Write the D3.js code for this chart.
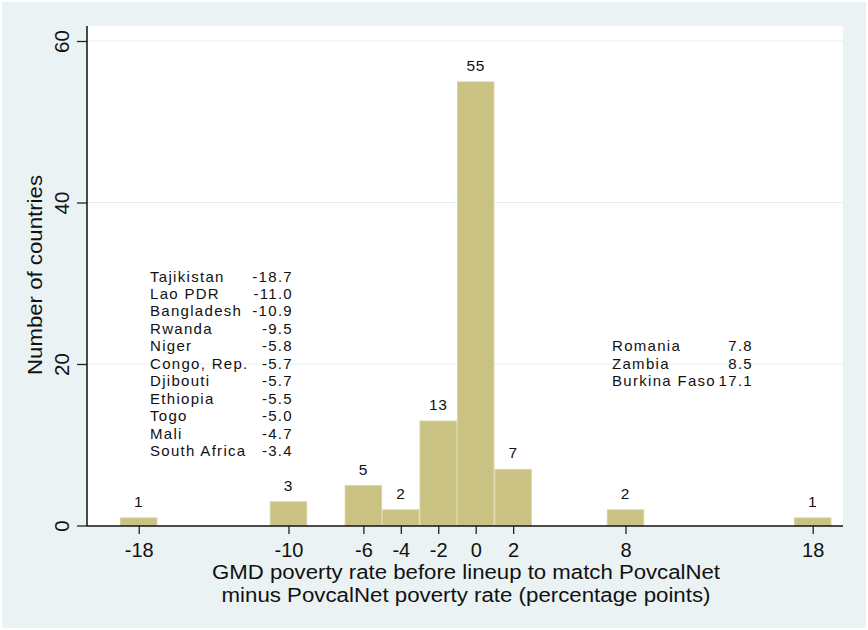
<!DOCTYPE html>
<html><head><meta charset="utf-8">
<script src="https://cdn.jsdelivr.net/npm/d3@7"></script>
<style>body{margin:0;padding:0;background:#fff}svg{display:block}text{font-family:"Liberation Sans",Arial,sans-serif;fill:#111}</style>
</head><body>
<svg id="c" width="868" height="630"></svg>
<script>
const binCenters = [-18, -10, -6, -4, -2, 0, 2, 8, 18];
const binCounts  = [1, 3, 5, 2, 13, 55, 7, 2, 1];
const xTicks = [-18, -10, -6, -4, -2, 0, 2, 8, 18];
const yTicks = [0, 20, 40, 60];
const leftNames  = ["Tajikistan","Lao PDR","Bangladesh","Rwanda","Niger","Congo, Rep.","Djibouti","Ethiopia","Togo","Mali","South Africa"];
const leftValues = ["-18.7","-11.0","-10.9","-9.5","-5.8","-5.7","-5.7","-5.5","-5.0","-4.7","-3.4"];
const rightNames  = ["Romania","Zambia","Burkina Faso"];
const rightValues = ["7.8","8.5","17.1"];
const xTitle = ["GMD poverty rate before lineup to match PovcalNet","minus PovcalNet poverty rate (percentage points)"];
const yTitle = "Number of countries";

const svg = d3.select("#c");
svg.append("rect").attr("x",0).attr("y",0).attr("width",868).attr("height",630).attr("fill","#ffffff");
svg.append("rect").attr("x",2).attr("y",2).attr("width",864).attr("height",626).attr("fill","#eaf2f3");
const L=87,R=843,T=26,B=526;
svg.append("rect").attr("x",L).attr("y",T).attr("width",R-L).attr("height",B-T).attr("fill","#ffffff");

const x = d3.scaleLinear().domain([-18,18]).range([138.7,812.7]);
const y = d3.scaleLinear().domain([0,60]).range([525.5,41]);

// gridlines
svg.append("g").selectAll("line").data(yTicks.filter(d=>d>0)).join("line")
  .attr("x1",L).attr("x2",R).attr("y1",d=>y(d)).attr("y2",d=>y(d))
  .attr("stroke","#e6eff0").attr("stroke-width",1.2);

// bars
svg.append("g").selectAll("rect").data(binCenters).join("rect")
  .attr("x",d=>x(d-1)+0.5).attr("width",d=>x(d+1)-x(d-1)-1)
  .attr("y",(d,i)=>y(binCounts[i])+0.5).attr("height",(d,i)=>y(0)-y(binCounts[i])-0.5)
  .attr("fill","#c9c282").attr("stroke","#d8d3a3").attr("stroke-width",1);

// bar labels
svg.append("g").selectAll("text").data(binCenters).join("text")
  .attr("x",d=>x(d)).attr("y",(d,i)=>y(binCounts[i])-10.5)
  .attr("text-anchor","middle").style("font-size","15.5px").style("letter-spacing","0.6px")
  .text((d,i)=>binCounts[i]);

// axes
const fmt = d => String(d);
const xAxis = d3.axisBottom(x).tickValues(xTicks).tickSize(8).tickPadding(9).tickFormat(fmt);
const gx = svg.append("g").attr("transform",`translate(0,${B})`).call(xAxis);
gx.select(".domain").remove();
gx.selectAll(".tick line").attr("stroke","#222").attr("stroke-width",1.3);
gx.selectAll(".tick text").style("font-size","20px").attr("fill","#111").attr("dy","0.71em");
svg.append("line").attr("x1",L).attr("x2",R).attr("y1",B).attr("y2",B).attr("stroke","#111").attr("stroke-width",1.5);

const yAxis = d3.axisLeft(y).tickValues(yTicks).tickSize(10).tickFormat(fmt);
const gy = svg.append("g").attr("transform",`translate(${L},0)`).call(yAxis);
gy.select(".domain").remove();
gy.selectAll(".tick line").attr("stroke","#222").attr("stroke-width",1.3);
gy.selectAll(".tick text").style("font-size","20.5px").attr("fill","#111")
  .attr("x",0).attr("dy",0).attr("text-anchor","middle")
  .attr("transform","translate(-18,0) rotate(-90)");
svg.append("line").attr("x1",L).attr("x2",L).attr("y1",T).attr("y2",B).attr("stroke","#111").attr("stroke-width",1.5);

// titles
svg.append("text").attr("text-anchor","middle").style("font-size","20px")
  .attr("transform","translate(42,275) rotate(-90)")
  .attr("textLength",200).attr("lengthAdjust","spacingAndGlyphs").text(yTitle);
svg.append("text").attr("x",466).attr("y",578.5).attr("text-anchor","middle").style("font-size","20px")
  .attr("textLength",508).attr("lengthAdjust","spacingAndGlyphs").text(xTitle[0]);
svg.append("text").attr("x",466).attr("y",601.5).attr("text-anchor","middle").style("font-size","20px")
  .attr("textLength",489).attr("lengthAdjust","spacingAndGlyphs").text(xTitle[1]);

// annotations
const annFont = "15px", ls = "1.3px", step = 17.47;
const ga = svg.append("g");
ga.selectAll("text.ln").data(leftNames).join("text").attr("class","ln")
  .attr("x",150).attr("y",(d,i)=>281.5+i*step).style("font-size",annFont).style("letter-spacing",ls).text(d=>d);
ga.selectAll("text.lv").data(leftValues).join("text").attr("class","lv")
  .attr("x",293).attr("y",(d,i)=>281.5+i*step).attr("text-anchor","end").style("font-size",annFont).style("letter-spacing",ls).text(d=>d);
ga.selectAll("text.rn").data(rightNames).join("text").attr("class","rn")
  .attr("x",612).attr("y",(d,i)=>351.2+i*step).style("font-size",annFont).style("letter-spacing",ls).text(d=>d);
ga.selectAll("text.rv").data(rightValues).join("text").attr("class","rv")
  .attr("x",753).attr("y",(d,i)=>351.2+i*step).attr("text-anchor","end").style("font-size",annFont).style("letter-spacing",ls).text(d=>d);
</script>
</body></html>
